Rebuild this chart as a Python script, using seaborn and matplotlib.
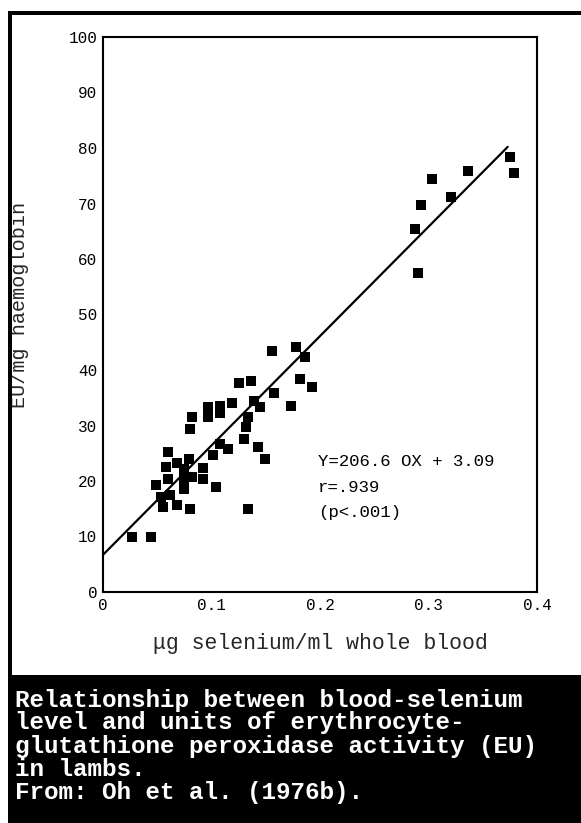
import matplotlib
matplotlib.use("Agg")
import matplotlib.pyplot as plt
from matplotlib.patches import Rectangle
import seaborn as sns
import pandas as pd

# ---- data ----
se_x = [0.027, 0.044, 0.055, 0.053, 0.049, 0.062, 0.068, 0.060, 0.058, 0.060,
        0.068, 0.075, 0.075, 0.075, 0.079, 0.080, 0.082, 0.092, 0.092, 0.080,
        0.082, 0.097, 0.097, 0.101, 0.104, 0.108, 0.108, 0.108, 0.115, 0.119,
        0.125, 0.130, 0.132, 0.134, 0.134, 0.136, 0.139, 0.145, 0.143, 0.149,
        0.156, 0.158, 0.173, 0.178, 0.186, 0.182, 0.193,
        0.288, 0.290, 0.293, 0.303, 0.321, 0.336, 0.375, 0.379]
eu_y = [9.9, 9.9, 15.3, 17.1, 19.2, 17.5, 15.7, 20.3, 22.5, 25.3,
        23.2, 22.1, 20.3, 18.5, 23.9, 14.9, 20.7, 20.3, 22.3, 29.4,
        31.5, 31.5, 33.3, 24.7, 18.9, 33.6, 32.2, 26.7, 25.8, 34.0,
        37.7, 27.6, 29.7, 31.5, 14.9, 38.0, 34.5, 33.3, 26.1, 24.0,
        43.4, 35.8, 33.6, 44.1, 42.3, 38.3, 36.9,
        65.4, 57.4, 69.7, 74.4, 71.2, 75.9, 78.4, 75.5]

fit_x = [0.0, 0.373]
fit_y = [6.7, 80.2]

x_ticks = [0, 0.1, 0.2, 0.3, 0.4]
x_tick_labels = ["0", "0.1", "0.2", "0.3", "0.4"]
y_ticks = [0, 10, 20, 30, 40, 50, 60, 70, 80, 90, 100]
y_tick_labels = [str(v) for v in y_ticks]

x_label = "\u03bcg selenium/ml whole blood"
y_label = "EU/mg haemoglobin"
annotation = ["Y=206.6 OX + 3.09", "r=.939", "(p<.001)"]
caption = ["Relationship between blood-selenium",
           "level and units of erythrocyte-",
           "glutathione peroxidase activity (EU)",
           "in lambs.",
           "From: Oh et al. (1976b)."]

# ---- figure ----
sns.set_style("white")
plt.rcParams["font.family"] = ["Liberation Mono", "DejaVu Sans Mono", "DejaVu Sans"]

W, H = 581, 823
fig = plt.figure(figsize=(W / 100, H / 100), dpi=100)
fig.patch.set_facecolor("white")

def fx(px):
    return px / W

def fy(py):
    return 1 - py / H

# outer frame and caption box
fig.add_artist(Rectangle((fx(8), 0), fx(4), fy(11), transform=fig.transFigure,
                         facecolor="black", edgecolor="none"))
fig.add_artist(Rectangle((fx(8), fy(15)), 1, 4 / H, transform=fig.transFigure,
                         facecolor="black", edgecolor="none"))
fig.add_artist(Rectangle((fx(8), 0), 1, fy(675), transform=fig.transFigure,
                         facecolor="black", edgecolor="none"))

ax = fig.add_axes([fx(103), fy(592), 434 / W, 555 / H])

df = pd.DataFrame({"x": se_x, "y": eu_y})
sns.scatterplot(data=df, x="x", y="y", marker="s", s=42, color="black",
                edgecolor="black", linewidth=0, ax=ax, zorder=3)
fit_df = pd.DataFrame({"x": fit_x, "y": fit_y})
sns.lineplot(data=fit_df, x="x", y="y", color="black", linewidth=1.6, ax=ax,
             zorder=2)

ax.set_xlim(0, 0.4)
ax.set_ylim(0, 100)
ax.set_xticks(x_ticks)
ax.set_xticklabels(x_tick_labels)
ax.set_yticks(y_ticks)
ax.set_yticklabels(y_tick_labels)
ax.tick_params(direction="in", length=7, width=1.3, labelsize=11.5, pad=4,
               colors="black")
for sp in ax.spines.values():
    sp.set_visible(True)
    sp.set_linewidth(1.5)
    sp.set_color("black")

ax.set_xlabel(x_label, fontsize=15.5)
ax.set_ylabel(y_label, fontsize=14.5)
ax.xaxis.set_label_coords(0.5, -0.073)
ax.yaxis.set_label_coords(-0.17, 0.517)

ann_y = [0.236, 0.189, 0.144]
for t, yy in zip(annotation, ann_y):
    ax.text(0.495, yy, t, transform=ax.transAxes, fontsize=12.5,
            va="center", ha="left", color="black")

cap_y = [700, 723, 746, 769, 792]
for t, yy in zip(caption, cap_y):
    fig.text(fx(15), fy(yy), t, fontsize=17.5, fontweight="bold",
             color="white", va="center", ha="left")

fig.savefig("out.png", dpi=100, facecolor="white")
